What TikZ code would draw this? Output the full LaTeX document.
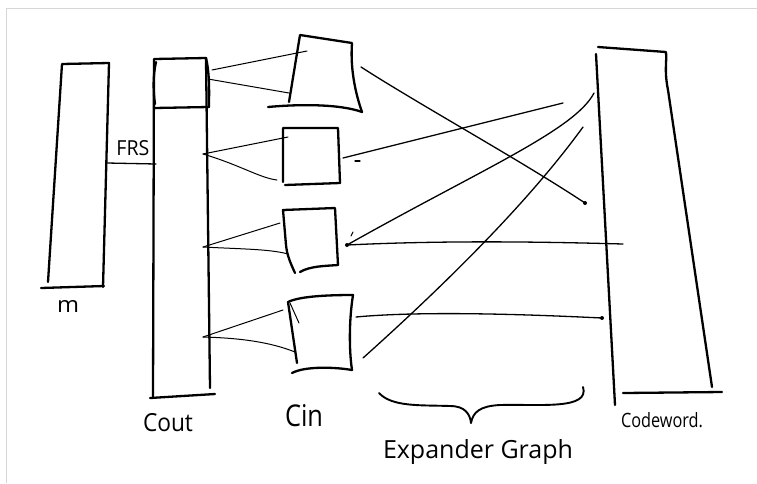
\documentclass[tikz,border=0pt]{standalone}
\usepackage{fontspec}
\setmainfont{Open Sans}
\begin{document}
\begin{tikzpicture}[x=1pt,y=-1pt,
  frame/.style={draw=black!16,line width=0.8pt},
  pen/.style={draw=black,line width=2.3pt,line cap=round,line join=round},
  wire/.style={draw=black,line width=1.3pt,line cap=round},
  fanline/.style={draw=black,line width=1pt,line cap=round},
  dotmark/.style={fill=black},
  lbl/.style={inner sep=0pt,text=black}]
\useasboundingbox (0,0) rectangle (757,483);
\fill[white] (0,0) rectangle (757,483);
% scan frame
\coordinate (fTL) at (6.5,8);
\coordinate (fTR) at (757,8);
\coordinate (fBL) at (6.5,483);
\draw[frame] (fBL) -- (fTL) -- (fTR);

% ---------- m box ----------
\coordinate (mTL) at (62,64);
\coordinate (mTR) at (109,63);
\coordinate (mBL) at (48,282);
\coordinate (mBR) at (103,287);
\coordinate (mB1) at (41,288);
\coordinate (mB2) at (104,286);
\coordinate (mFRS) at (107,163);
\draw[pen] (mBL) -- (mTL) -- (mTR) -- (mBR);
\draw[pen] (mB1) -- (mB2);
\node[lbl] (mlab) at (68,306) {\resizebox{22pt}{12pt}{m}};

% ---------- Cout ----------
\coordinate (cTL) at (154,59);
\coordinate (cTR) at (206,58);
\coordinate (cBL) at (153,398);
\coordinate (cBR) at (210,388);
\coordinate (cB1) at (150,398);
\coordinate (cB2) at (215,394);
\coordinate (cS1) at (154,108);
\coordinate (cS2) at (209,107);
\coordinate (cFRS) at (156,164);
\draw[pen] (cBL) -- (cTL) -- (cTR) -- (cBR);
\draw[pen] (cB1) -- (cB2);
\draw[pen] (cS1) -- (cS2);
\draw[pen] (cTR) .. controls (210,75) and (209,95) .. (cS2);
\draw[pen] (156,62) .. controls (153,75) and (153,90) .. (155,104);
\node[lbl] (coutlab) at (168,423) {\resizebox{50pt}{18pt}{Cout}};

% FRS connector
\draw[wire] (mFRS) -- (cFRS);
\node[lbl] (frslab) at (133,148) {\resizebox{33pt}{15pt}{FRS}};

% ---------- Cin boxes ----------
% box 1
\coordinate (a1TL) at (300,35);
\coordinate (a1TR) at (352,43);
\coordinate (a1BL) at (289,102);
\coordinate (a1BR) at (362,112);
\coordinate (a1B0) at (268,107);
\draw[pen] (a1BL) -- (a1TL) -- (a1TR) .. controls (350,70) and (356,95) .. (a1BR);
\draw[pen] (a1B0) .. controls (300,104) and (340,104) .. (a1BR);
% box 2
\coordinate (a2TL) at (283,128);
\coordinate (a2TR) at (338,128);
\coordinate (a2BL) at (283,182);
\coordinate (a2BR) at (340,183);
\coordinate (a2B0) at (285,185);
\draw[pen] (a2BL) -- (a2TL) -- (a2TR) -- (a2BR);
\draw[pen] (a2B0) -- (a2BR);
% box 3
\coordinate (a3TL) at (283,210);
\coordinate (a3TR) at (335,208);
\coordinate (a3BL) at (295,273);
\coordinate (a3BR) at (338,265);
\coordinate (a3B0) at (300,272);
\draw[pen] (a3BL) .. controls (290,262) and (287,255) .. (286,245) -- (a3TL) -- (a3TR) -- (a3BR);
\draw[pen] (a3B0) .. controls (310,266) and (325,266) .. (a3BR);
% box 4
\coordinate (a4TL) at (288,302);
\coordinate (a4TR) at (353,295);
\coordinate (a4BL) at (297,363);
\coordinate (a4BR) at (352,370);
\coordinate (a4B0) at (292,373);
\draw[pen] (a4BL) -- (a4TL) .. controls (300,296) and (330,295) .. (a4TR) .. controls (349,320) and (349,350) .. (a4BR);
\draw[pen] (a4B0) .. controls (305,366) and (335,367) .. (a4BR);
\draw[fanline] (290,303) -- (299,323);
\node[lbl] (cinlab) at (304,416) {\resizebox{38pt}{22pt}{Cin}};

% ---------- fans Cout -> Cin ----------
\coordinate (f1a) at (212,70);
\coordinate (f1b) at (208,79);
\coordinate (g1a) at (307,51);
\coordinate (g1b) at (289,93);
\draw[fanline] (f1a) -- (g1a);
\draw[fanline] (f1b) -- (g1b);
\coordinate (f2) at (203,154);
\coordinate (g2a) at (288,137);
\coordinate (g2b) at (277,180);
\draw[fanline] (f2) -- (g2a);
\draw[fanline] (f2) .. controls (240,165) and (260,178) .. (g2b);
\coordinate (f3) at (203,247);
\coordinate (g3a) at (280,223);
\coordinate (g3b) at (288,254);
\draw[fanline] (f3) -- (g3a);
\draw[fanline] (f3) .. controls (240,249) and (270,249) .. (g3b);
\coordinate (f4) at (203,337);
\coordinate (g4a) at (283,310);
\coordinate (g4b) at (295,352);
\draw[fanline] (f4) -- (g4a);
\draw[fanline] (f4) .. controls (240,338) and (270,342) .. (g4b);

% ---------- Codeword ----------
\coordinate (wTL) at (596,54);
\coordinate (wT1) at (598,47);
\coordinate (wTR) at (666,52);
\coordinate (wBL) at (615,405);
\coordinate (wBR) at (712,387);
\coordinate (wB1) at (623,393);
\coordinate (wB2) at (722,392);
\draw[pen] (wT1) -- (wTR) .. controls (667,62) and (664,70) .. (668,90) -- (wBR);
\draw[pen] (wTL) -- (wBL);
\draw[pen] (wB1) -- (wB2);
\node[lbl] (cwlab) at (662,420) {\resizebox{82pt}{15pt}{Codeword.}};

% ---------- expander edges ----------
\coordinate (eA1) at (361,67);
\coordinate (eA2) at (585,203);
\draw[wire] (eA1) .. controls (420,105) and (520,160) .. (eA2);
\fill[dotmark] (585,203) circle (2pt);
\coordinate (eB1) at (563,103);
\coordinate (eB2) at (343,158);
\draw[wire] (eB1) -- (eB2);
\draw[wire] (355,161) -- (360,161);
\coordinate (eC1) at (594,93);
\coordinate (eC2) at (347,245);
\draw[wire] (eC1) .. controls (575,130) and (480,170) .. (eC2);
\coordinate (eD1) at (583,127);
\coordinate (eD2) at (363,358);
\draw[wire] (eD1) .. controls (530,200) and (450,280) .. (eD2);
\coordinate (eE2) at (623,244);
\draw[wire] (eC2) .. controls (450,240) and (550,242) .. (eE2);
\fill[dotmark] (eC2) circle (2pt);
\draw[fanline] (351,236) -- (353,232);
\coordinate (eF1) at (356,317);
\coordinate (eF2) at (602,318);
\draw[wire] (eF1) .. controls (420,311) and (520,314) .. (eF2);
\fill[dotmark] (eF2) circle (2pt);

% ---------- brace ----------
\coordinate (brL) at (379,393);
\coordinate (brM) at (471,423);
\coordinate (brR) at (583,387);
\draw[pen,line width=1.9pt] (brL) .. controls (392,407) and (420,405) .. (450,406)
   .. controls (465,406) and (470,414) .. (brM)
   .. controls (473,412) and (480,406) .. (500,405)
   .. controls (540,404) and (590,410) .. (brR);
\node[lbl] (explab) at (478,452) {\resizebox{190pt}{!}{Expander Graph}};
\end{tikzpicture}
\end{document}
